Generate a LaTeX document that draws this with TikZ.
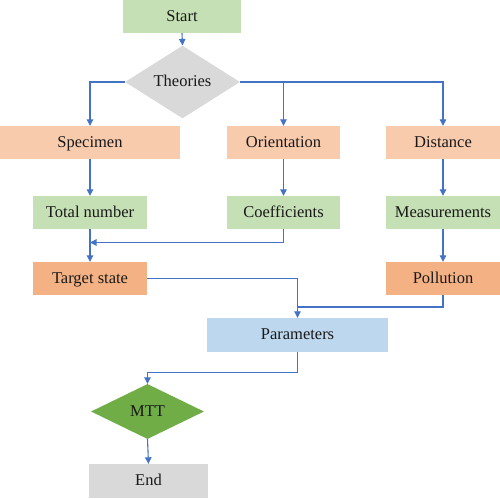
\documentclass[tikz,border=0pt]{standalone}
\usepackage{fontspec}
\setmainfont{Liberation Serif}
\usetikzlibrary{shapes.geometric,arrows.meta}
\definecolor{lgreen}{HTML}{C5E0B4}
\definecolor{lorange}{HTML}{F8CBAD}
\definecolor{dorange}{HTML}{F4B183}
\definecolor{lblue}{HTML}{BDD7EE}
\definecolor{lgray}{HTML}{D9D9D9}
\definecolor{dgreen}{HTML}{70AD47}
\definecolor{arrowblue}{HTML}{4472C4}
\begin{document}
\begin{tikzpicture}[x=1pt,y=-1pt,
  every node/.style={font=\fontsize{16.5}{19}\selectfont, text=black!90, inner sep=0pt, text height=12pt, text depth=3pt},
  box/.style={rectangle, minimum height=33pt},
  dia/.style={diamond, minimum width=115pt, minimum height=55pt},
  conn/.style={draw=arrowblue, line width=1.1pt},
  arr/.style={conn, -{Triangle[length=6.5pt,width=6.5pt]}}]
\useasboundingbox (0,0) rectangle (500,498);
\node[box, fill=lgreen, minimum width=118pt] (start) at (182,16.5) {Start};
\node[dia, fill=lgray] (theo) at (182.5,82) {Theories};
\node[box, fill=lorange, minimum width=180pt] (spec) at (90,142.5) {Specimen};
\node[box, fill=lorange, minimum width=113pt] (orient) at (283.5,142.5) {Orientation};
\node[box, fill=lorange, minimum width=114pt] (dist) at (443,142.5) {Distance};
\node[box, fill=lgreen, minimum width=114pt] (total) at (90,212.5) {Total number};
\node[box, fill=lgreen, minimum width=113pt] (coef) at (283.5,212.5) {Coefficients};
\node[box, fill=lgreen, minimum width=114pt] (meas) at (443,212.5) {Measurements};
\node[box, fill=dorange, minimum width=114pt] (target) at (90,278.5) {Target state};
\node[box, fill=dorange, minimum width=114pt] (poll) at (443,278.5) {Pollution};
\node[box, fill=lblue, minimum width=181pt, minimum height=34pt] (param) at (297.5,335) {Parameters};
\node[dia, fill=dgreen, minimum width=113pt] (mtt) at (147.5,411.5) {MTT};
\node[box, fill=lgray, minimum width=119pt, minimum height=34pt] (end) at (148.5,481) {End};
\coordinate (j1) at (90,242.5);
\coordinate (j2) at (297.5,307);
\draw[arr] (start.south) -- (theo.north);
\draw[arr] (theo.west) -| (spec.north);
\draw[arr] (theo.east) -| (dist.north);
\draw[arr] (theo.east -| orient.north) -- (orient.north);
\draw[arr] (spec) -- (total);
\draw[arr] (orient) -- (coef);
\draw[arr] (dist) -- (meas);
\draw[arr] (total) -- (target);
\draw[arr] (meas) -- (poll);
\draw[arr] (coef.south) |- (j1);
\draw[arr] (target.east) -| (param.north);
\draw[conn] (poll.south) |- (j2);
\draw[arr] (param.south) |- ++(0,20) -| (mtt.north);
\draw[arr] (mtt.south) -- (end.north);
\end{tikzpicture}
\end{document}
